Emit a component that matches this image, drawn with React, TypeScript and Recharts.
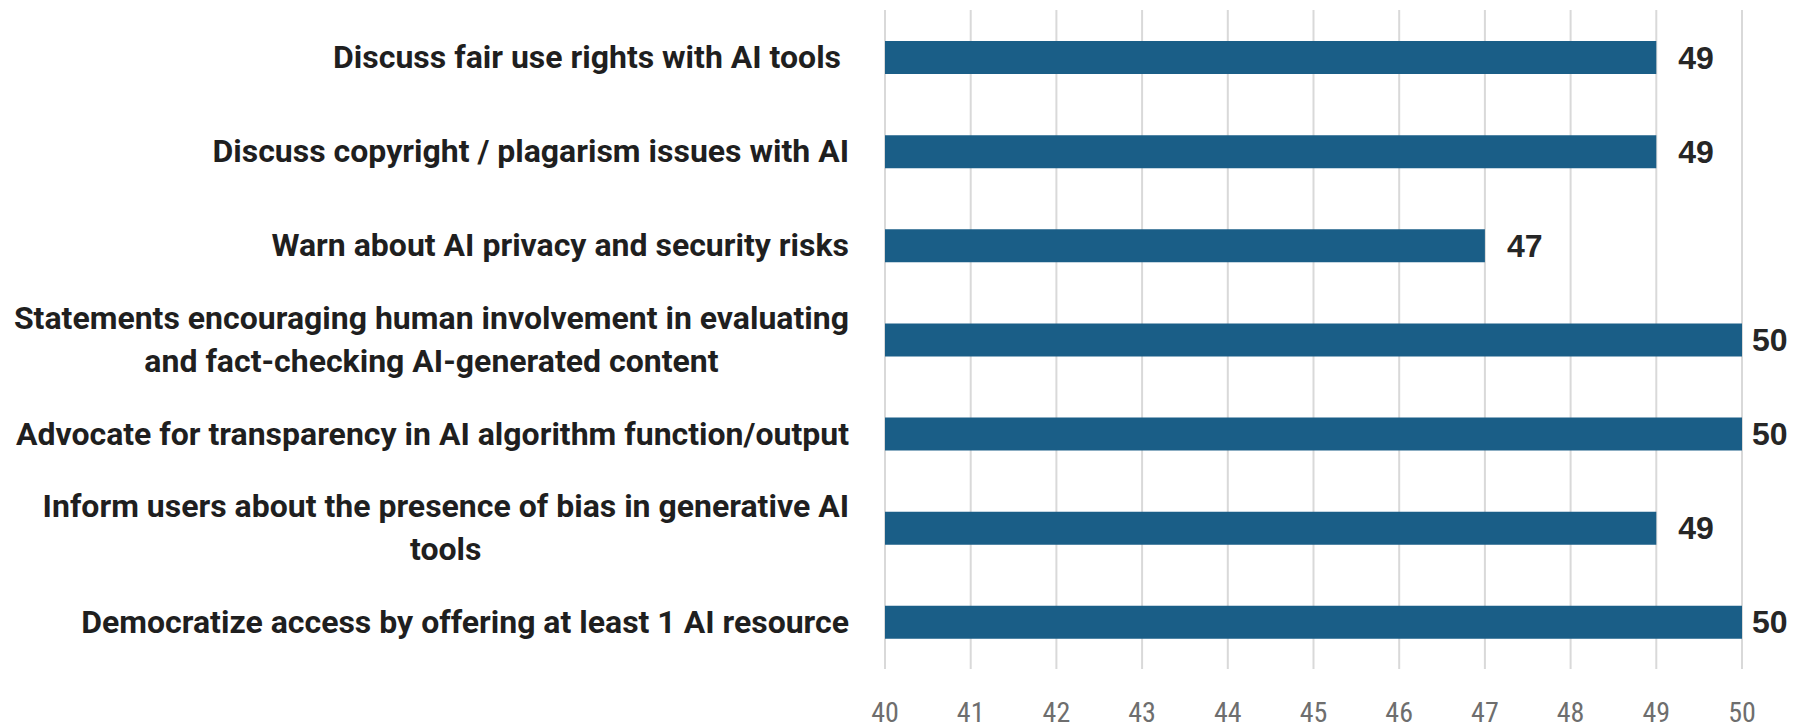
import React from 'react'
import { BarChart, Bar, XAxis, YAxis, CartesianGrid, LabelList } from 'recharts'

// Horizontal bar chart: count of AI-related statements per category (axis 40–50).

const categories = [
  'Discuss fair use rights with AI tools ',
  'Discuss copyright / plagarism issues with AI',
  'Warn about AI privacy and security risks',
  'Statements encouraging human involvement in evaluating\nand fact-checking AI-generated content',
  'Advocate for transparency in AI algorithm function/output',
  'Inform users about the presence of bias in generative AI\ntools',
  'Democratize access by offering at least 1 AI resource',
]
const counts = [49, 49, 47, 50, 50, 49, 50]
const xTicks = [40, 41, 42, 43, 44, 45, 46, 47, 48, 49, 50]

const BAR_COLOR = '#1a5e87'
const CAT_FONT = "Roboto, 'Liberation Sans', sans-serif"
const CAT_SIZE = 32
const LABEL_RIGHT = 849

let measureCtx: CanvasRenderingContext2D | null = null
function textWidth(s: string): number {
  if (!measureCtx) measureCtx = document.createElement('canvas').getContext('2d')
  if (!measureCtx) return s.length * CAT_SIZE * 0.5
  measureCtx.font = `bold ${CAT_SIZE}px ${CAT_FONT}`
  return measureCtx.measureText(s).width
}

function CategoryTick(props: any) {
  const { y, payload } = props
  const lines = String(payload.value).split('\n')
  const lineH = 43
  if (lines.length === 1) {
    return (
      <text x={LABEL_RIGHT} y={y} textAnchor="end" dominantBaseline="central"
        style={{ whiteSpace: 'pre' }}
        fontFamily={CAT_FONT} fontSize={CAT_SIZE} fontWeight="bold" fill="#1f1f1f">
        {lines[0]}
      </text>
    )
  }
  const widest = Math.max(...lines.map(textWidth))
  const cx = LABEL_RIGHT - widest / 2
  const top = y - ((lines.length - 1) * lineH) / 2
  return (
    <text textAnchor="middle" dominantBaseline="central"
      fontFamily={CAT_FONT} fontSize={CAT_SIZE} fontWeight="bold" fill="#1f1f1f">
      {lines.map((l, i) => (
        <tspan key={i} x={cx} y={top + i * lineH}>{l}</tspan>
      ))}
    </text>
  )
}

function ValueTick(props: any) {
  const { x, y, payload } = props
  return (
    <text x={x} y={y + 43} textAnchor="middle" dominantBaseline="central"
      fontFamily="'Roboto Condensed', Roboto, sans-serif" fontSize={28} fill="#6e6e6e">
      {payload.value}
    </text>
  )
}

function ValueLabel(props: any) {
  const { x, y, width, height, value } = props
  const gap = value >= 50 ? 10 : 22
  return (
    <text x={x + width + gap} y={y + height / 2} dominantBaseline="central"
      fontFamily="'Liberation Sans', Arial, sans-serif" fontSize={32} fontWeight="bold" fill="#262626">
      {value}
    </text>
  )
}

export default function App() {
  const data = categories.map((name, i) => ({ name, value: counts[i] }))
  return (
    <div style={{ position: 'absolute', left: 0, top: 0, width: 1795, height: 727, background: '#fff' }}>
      <BarChart
        width={1795}
        height={727}
        data={data}
        layout="vertical"
        margin={{ top: 10, right: 53, bottom: 0, left: 0 }}
      >
        <CartesianGrid horizontal={false} stroke="#d9d9d9" strokeWidth={2} />
        <XAxis
          type="number"
          domain={[40, 50]}
          ticks={xTicks}
          allowDataOverflow
          axisLine={false}
          tickLine={false}
          tickSize={0}
          tickMargin={0}
          height={58}
          tick={<ValueTick />}
        />
        <YAxis
          type="category"
          dataKey="name"
          width={885}
          axisLine={false}
          tickLine={false}
          interval={0}
          tick={<CategoryTick />}
        />
        <Bar dataKey="value" fill={BAR_COLOR} barSize={33} isAnimationActive={false}>
          <LabelList dataKey="value" content={<ValueLabel />} />
        </Bar>
      </BarChart>
    </div>
  )
}
